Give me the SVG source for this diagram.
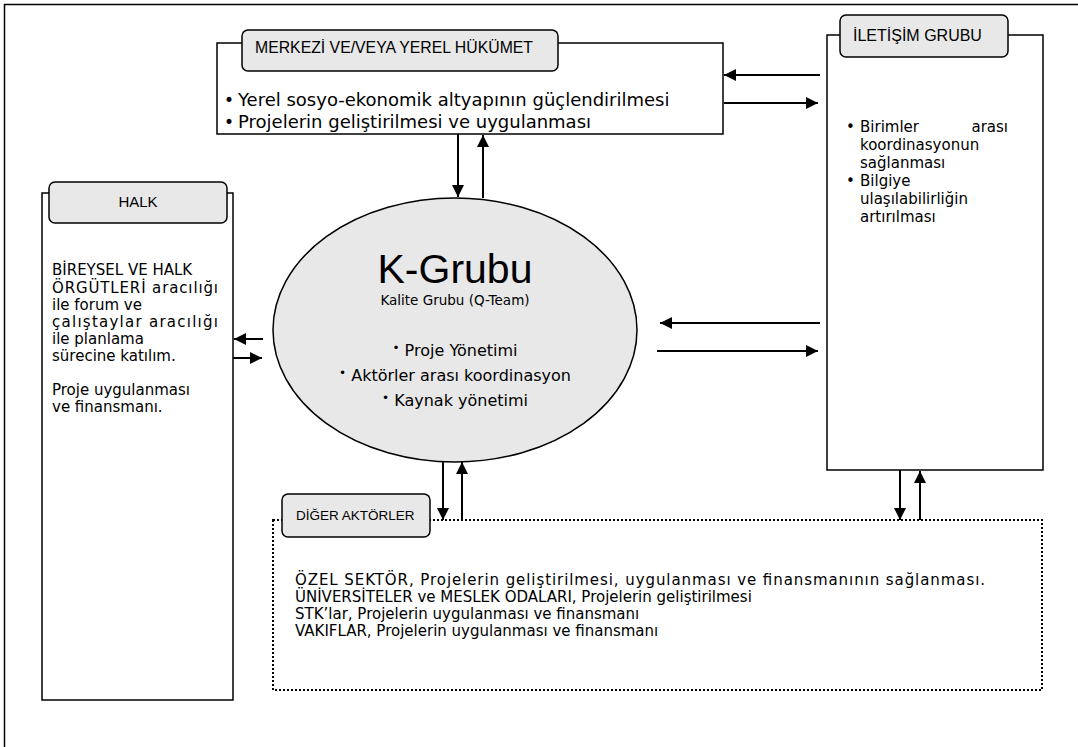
<svg xmlns="http://www.w3.org/2000/svg" width="1078" height="747" viewBox="0 0 1078 747">
<defs>
<marker id="ah" viewBox="0 0 10 10" refX="10" refY="5" markerWidth="6" markerHeight="6" markerUnits="strokeWidth" orient="auto">
<path d="M0,0 L10,5 L0,10 z" fill="#000"/>
</marker>
<style>
.box{fill:#fff;stroke:#000;stroke-width:1.5}
.tab{fill:#e8e8e8;stroke:#000;stroke-width:1.5}
.tl{font-family:"Liberation Sans",Arial,sans-serif;font-size:15px;fill:#000}
.t{font-family:"DejaVu Sans",Verdana,sans-serif;font-size:15px;fill:#000}
.b{font-size:12px}
.c{stroke:#000;stroke-width:2;fill:none;marker-end:url(#ah)}
</style>
</defs>
<rect x="4.5" y="4.5" width="1100" height="800" fill="none" stroke="#000" stroke-width="1.5"/>

<g id="hukumet">
<rect class="box" x="217" y="43" width="506" height="91"/>
<rect class="tab" x="242" y="30" width="316" height="41" rx="6"/>
<text class="tl" x="255" y="53" style="font-size:15.8px">MERKEZİ VE/VEYA YEREL HÜKÜMET</text>
<text class="t" x="224" y="106" style="font-size:17px">•</text>
<text class="t" x="238" y="106" style="font-size:18px">Yerel sosyo-ekonomik altyapının güçlendirilmesi</text>
<text class="t" x="224" y="128" style="font-size:17px">•</text>
<text class="t" x="238" y="128" style="font-size:18px">Projelerin geliştirilmesi ve uygulanması</text>
</g>

<g id="iletisim">
<rect class="box" x="827" y="35" width="216" height="435"/>
<rect class="tab" x="840" y="15" width="168" height="42" rx="6"/>
<text class="tl" x="853" y="41" style="font-size:16px">İLETİŞİM GRUBU</text>
<text class="t" x="846" y="132">•</text>
<text class="t" x="860" y="132">Birimler</text>
<text class="t" x="1008" y="132" text-anchor="end">arası</text>
<text class="t" x="860" y="150">koordinasyonun</text>
<text class="t" x="860" y="168">sağlanması</text>
<text class="t" x="846" y="186">•</text>
<text class="t" x="860" y="186">Bilgiye</text>
<text class="t" x="860" y="204">ulaşılabilirliğin</text>
<text class="t" x="860" y="222">artırılması</text>
</g>

<g id="halk">
<rect class="box" x="42" y="193" width="191" height="507"/>
<rect class="tab" x="49" y="182" width="178" height="41" rx="6"/>
<text class="tl" x="138" y="207" text-anchor="middle">HALK</text>
<text class="t" x="52" y="275">BİREYSEL VE HALK</text>
<text class="t" x="52" y="293" textLength="166" lengthAdjust="spacing">ÖRGÜTLERİ aracılığı</text>
<text class="t" x="52" y="310">ile forum ve</text>
<text class="t" x="52" y="327" textLength="166" lengthAdjust="spacing">çalıştaylar aracılığı</text>
<text class="t" x="52" y="344">ile planlama</text>
<text class="t" x="52" y="361">sürecine katılım.</text>
<text class="t" x="52" y="395">Proje uygulanması</text>
<text class="t" x="52" y="412">ve finansmanı.</text>
</g>

<g id="kgrubu">
<ellipse cx="455" cy="330" rx="182" ry="132" fill="#e8e8e8" stroke="#000" stroke-width="1.5"/>
<text x="455" y="283" text-anchor="middle" font-family="Liberation Sans,Arial,sans-serif" font-size="41">K-Grubu</text>
<text class="t" x="455" y="305" text-anchor="middle" style="font-size:13.5px">Kalite Grubu (Q-Team)</text>
<text class="t" x="455" y="356" text-anchor="middle" style="font-size:16px"><tspan class="b" dy="-4">•</tspan><tspan dy="4"> Proje Yönetimi</tspan></text>
<text class="t" x="455" y="381" text-anchor="middle" style="font-size:16px"><tspan class="b" dy="-4">•</tspan><tspan dy="4"> Aktörler arası koordinasyon</tspan></text>
<text class="t" x="455" y="406" text-anchor="middle" style="font-size:16px"><tspan class="b" dy="-4">•</tspan><tspan dy="4"> Kaynak yönetimi</tspan></text>
</g>

<g id="diger">
<rect x="273" y="520" width="769" height="170" fill="none" stroke="#000" stroke-width="2" stroke-dasharray="2 2"/>
<rect class="tab" x="282" y="494" width="148" height="43" rx="6"/>
<text class="tl" x="296" y="520" style="font-size:13.5px">DİĞER AKTÖRLER</text>
<text class="t" x="295" y="585" textLength="690" lengthAdjust="spacing">ÖZEL SEKTÖR, Projelerin geliştirilmesi, uygulanması ve finansmanının sağlanması.</text>
<text class="t" x="295" y="602">ÜNİVERSİTELER ve MESLEK ODALARI, Projelerin geliştirilmesi</text>
<text class="t" x="295" y="619">STK’lar, Projelerin uygulanması ve finansmanı</text>
<text class="t" x="295" y="636">VAKIFLAR, Projelerin uygulanması ve finansmanı</text>
</g>

<g id="connectors">
<line class="c" x1="458" y1="134" x2="458" y2="197"/>
<line class="c" x1="483" y1="198" x2="483" y2="135"/>
<line class="c" x1="820" y1="75" x2="724" y2="75"/>
<line class="c" x1="724" y1="103" x2="818" y2="103"/>
<line class="c" x1="820" y1="323" x2="660" y2="323"/>
<line class="c" x1="657" y1="351" x2="818" y2="351"/>
<line class="c" x1="263" y1="339" x2="234" y2="339"/>
<line class="c" x1="233" y1="358" x2="262" y2="358"/>
<line class="c" x1="443" y1="462" x2="443" y2="520"/>
<line class="c" x1="462" y1="520" x2="462" y2="462"/>
<line class="c" x1="900" y1="470" x2="900" y2="520"/>
<line class="c" x1="920" y1="520" x2="920" y2="471"/>
</g>
</svg>
